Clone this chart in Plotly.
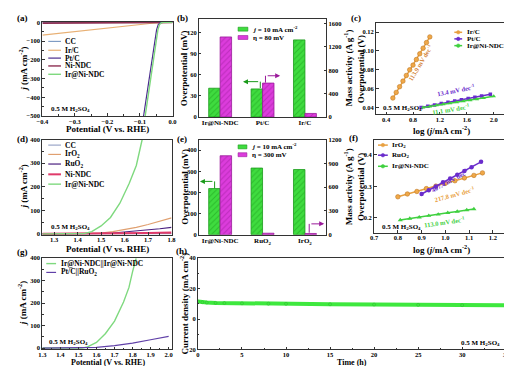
import plotly.graph_objects as go

W, H = 512, 366
FONT = "Liberation Serif"


def px(x):
    return x / W


def py(y):
    return 1 - y / H


# ---------------- data ----------------
# (a) HER polarisation curves
a_cc_x = [-0.40, -0.20, 0.00]
a_cc_y = [-1.0, -0.5, 0.0]
a_irc_x = [-0.40, -0.35, -0.30, -0.25, -0.20, -0.15, -0.10, -0.07, -0.05, -0.03, 0.00]
a_irc_y = [-68, -58, -48, -38, -29, -20, -11, -6, -3, -1, 0]
a_ptc_x = [-0.089, -0.080, -0.071, -0.063, -0.055, -0.049, -0.044, -0.038, -0.030, 0.000]
a_ptc_y = [-500, -400, -300, -200, -100, -40, -12, -3, 0, 0]
a_ni_x = [-0.40, -0.20, 0.00]
a_ni_y = [-4, -2, 0]
a_irni_x = [-0.084, -0.075, -0.066, -0.058, -0.050, -0.045, -0.040, -0.035, -0.030, 0.000]
a_irni_y = [-500, -400, -300, -200, -100, -40, -12, -3, 0, 0]

# (b) HER bars
b_cats = ["Ir@Ni-NDC", "Pt/C", "Ir/C"]
b_overpot = [41, 40, 110]
b_mass = [1370, 580, 60]

# (c) HER Tafel
c_irc_x = [0.50, 0.55, 0.60, 0.65, 0.70, 0.75, 0.80, 0.85, 0.90, 0.95, 1.00, 1.05]
c_irc_y = [0.050, 0.056, 0.062, 0.068, 0.074, 0.080, 0.085, 0.091, 0.097, 0.103, 0.109, 0.115]
c_ptc_x = [0.92, 1.02, 1.12, 1.22, 1.32, 1.42, 1.52, 1.62, 1.72, 1.82, 1.95]
c_ptc_y = [0.0400, 0.0413, 0.0427, 0.0441, 0.0454, 0.0468, 0.0481, 0.0495, 0.0509, 0.0522, 0.0540]
c_irni_x = [0.95, 1.05, 1.15, 1.25, 1.35, 1.45, 1.55, 1.65, 1.75, 1.85, 2.00]
c_irni_y = [0.0400, 0.0411, 0.0422, 0.0433, 0.0444, 0.0455, 0.0466, 0.0477, 0.0488, 0.0499, 0.0520]

# (d) OER polarisation curves
d_x = [1.25, 1.45, 1.50, 1.55, 1.60, 1.65, 1.70, 1.75, 1.80]
d_cc_y = [0, 0.2, 0.3, 0.4, 0.5, 0.7, 0.9, 1.1, 1.4]
d_iro2_y = [0, 1, 4, 10, 18, 28, 40, 53, 68]
d_ruo2_y = [0, 0.5, 2, 4, 8, 12, 17, 22, 28]
d_ni_y = [0, 0.5, 1, 1.5, 2.5, 3, 4, 5, 6]
d_irni_x = [1.25, 1.40, 1.43, 1.46, 1.50, 1.54, 1.58, 1.62, 1.65, 1.675]
d_irni_y = [0, 0, 2, 10, 34, 70, 130, 215, 290, 400]

# (e) OER bars
e_cats = ["Ir@Ni-NDC", "RuO<sub>2</sub>", "IrO<sub>2</sub>"]
e_overpot = [218, 315, 308]
e_mass = [995, 18, 15]

# (f) OER Tafel
f_iro2_x = [0.80, 0.84, 0.88, 0.92, 0.96, 1.00, 1.04, 1.08, 1.12, 1.156]
f_iro2_y = [0.267, 0.276, 0.284, 0.293, 0.301, 0.310, 0.318, 0.327, 0.335, 0.343]
f_ruo2_x = [0.90, 0.93, 0.96, 0.99, 1.02, 1.05, 1.08, 1.11, 1.15]
f_ruo2_y = [0.276, 0.288, 0.300, 0.313, 0.325, 0.337, 0.349, 0.361, 0.378]
f_irni_x = [0.81, 0.85, 0.89, 0.93, 0.97, 1.01, 1.05, 1.09, 1.12]
f_irni_y = [0.193, 0.198, 0.202, 0.207, 0.211, 0.216, 0.220, 0.225, 0.228]

# (g) overall water splitting
g_irni_x = [1.30, 1.52, 1.55, 1.60, 1.65, 1.70, 1.75, 1.78, 1.80, 1.82]
g_irni_y = [0, 0, 5, 25, 65, 120, 205, 270, 340, 400]
g_pt_x = [1.30, 1.55, 1.60, 1.70, 1.80, 1.90, 2.00]
g_pt_y = [0, 0, 3, 11, 22, 37, 52]

# (h) stability
h_t = [0, 0.5, 1, 2, 3, 5, 8, 10, 15, 20, 25, 30, 35]
h_j = [11.5, 11.0, 10.8, 10.6, 10.5, 10.3, 10.1, 10.0, 9.7, 9.5, 9.3, 9.1, 9.0]

# ---------------- figure ----------------
fig = go.Figure()


def line(x, y, color, xa, ya, width=1.2, mode="lines", marker=None):
    fig.add_trace(go.Scatter(x=x, y=y, mode=mode, xaxis=xa, yaxis=ya,
                             line=dict(color=color, width=width),
                             marker=marker, showlegend=False, hoverinfo="skip"))


C_CC = "#7f9cc4"
C_IRC = "#e8b074"
C_PTC = "#4b2d8f"
C_NI = "#8e2f52"
C_IRNI = "#7fd97f"

# (a)
line(a_cc_x, a_cc_y, C_CC, "x", "y")
line(a_irc_x, a_irc_y, C_IRC, "x", "y")
line(a_ni_x, a_ni_y, C_NI, "x", "y", width=1.6)
line(a_ptc_x, a_ptc_y, C_PTC, "x", "y")
line(a_irni_x, a_irni_y, C_IRNI, "x", "y", width=1.4)

# (b)
GREEN = "#3fdc3f"
GREEN_D = "#1a9a1a"
MAG = "#dc3cdc"
MAG_D = "#9a1a9a"


def bars(cats, vals, color, dark, xa, ya, offset):
    fig.add_trace(go.Bar(x=cats, y=vals, xaxis=xa, yaxis=ya, width=0.27, offset=offset,
                         marker=dict(color=color, line=dict(color=dark, width=0.8),
                                     pattern=dict(shape="/", fgcolor=dark, size=4, solidity=0.25)),
                         showlegend=False, hoverinfo="skip"))


bars(b_cats, b_overpot, GREEN, GREEN_D, "x2", "y2", -0.27)
bars(b_cats, b_mass, MAG, MAG_D, "x2", "y3", 0.0)

# (c)
line(c_irc_x, c_irc_y, "#e8a040", "x3", "y4", width=1.5, mode="lines+markers",
     marker=dict(size=4.5, color="#f0a848", line=dict(color="#c07a28", width=0.6)))
line(c_ptc_x, c_ptc_y, "#6a2ccc", "x3", "y4", width=1.5, mode="lines+markers",
     marker=dict(size=3.5, symbol="square", color="#6a2ccc"))
line(c_irni_x, c_irni_y, "#3fd03f", "x3", "y4", width=1.5, mode="lines+markers",
     marker=dict(size=4, symbol="triangle-up", color="#3fd03f"))

# (d)
line(d_x, d_cc_y, "#9aa6c8", "x4", "y5")
line(d_x, d_iro2_y, "#e0a070", "x4", "y5")
line(d_x, d_ruo2_y, "#4b2080", "x4", "y5")
line(d_x, d_ni_y, "#e03a6a", "x4", "y5", width=2.2)
line(d_irni_x, d_irni_y, C_IRNI, "x4", "y5", width=1.4)

# (e)
bars(e_cats, e_overpot, GREEN, GREEN_D, "x5", "y6", -0.27)
bars(e_cats, e_mass, MAG, MAG_D, "x5", "y7", 0.0)

# (f)
line(f_iro2_x, f_iro2_y, "#e8a040", "x6", "y8", width=1.5, mode="lines+markers",
     marker=dict(size=4.5, color="#f0a848", line=dict(color="#c07a28", width=0.6)))
line(f_ruo2_x, f_ruo2_y, "#6a2ccc", "x6", "y8", width=1.5, mode="lines+markers",
     marker=dict(size=4.5, color="#6a2ccc"))
line(f_irni_x, f_irni_y, "#3fd03f", "x6", "y8", width=1.5, mode="lines+markers",
     marker=dict(size=4.5, symbol="triangle-up", color="#3fd03f"))

# (g)
line(g_irni_x, g_irni_y, C_IRNI, "x7", "y9", width=1.4)
line(g_pt_x, g_pt_y, "#6040a8", "x7", "y9", width=1.2)

# (h)
line(h_t, h_j, "#3ee83e", "x8", "y10", width=4, mode="lines+markers",
     marker=dict(size=3, color="#3ee83e", line=dict(color="#2cb82c", width=0.5)))

# ---------------- axes ----------------
TF = dict(family=FONT, size=6.5, color="black", weight="bold")
AX = dict(showline=True, linecolor="#333333", linewidth=1, mirror=True,
          ticks="inside", ticklen=2.5, tickwidth=1, tickcolor="#333333",
          showgrid=False, zeroline=False, tickfont=TF, ticklabeloverflow="allow")

lay = {}


def xax(name, x0, x1, anchor, **kw):
    d = dict(AX)
    d.update(domain=[px(x0), px(x1)], anchor=anchor, ticklabelstandoff=-1)
    d.update(kw)
    lay[name] = d


def yax(name, top, bottom, anchor, **kw):
    d = dict(AX)
    d.update(domain=[py(bottom), py(top)], anchor=anchor, ticklabelstandoff=0)
    d.update(kw)
    lay[name] = d


MIN = dict(ticks="inside", ticklen=1.5, tickcolor="#333333")
CATF = dict(family=FONT, size=7, color="black", weight="bold")

xax("xaxis", 29, 162, "y", range=[-0.4, 0.0], dtick=0.1, tickformat=".1f", minor=dict(MIN, dtick=0.05))
yax("yaxis", 10, 106, "x", range=[-500, 3], dtick=100, minor=dict(MIN, dtick=50))

xax("xaxis2", 189, 319, "y2", type="category", range=[-0.5, 2.5], ticks="", tickfont=CATF)
yax("yaxis2", 7, 107, "x2", range=[0, 140], dtick=30, mirror=False)
yax("yaxis3", 7, 107, "x2", range=[0, 1680], dtick=400, overlaying="y2", side="right", mirror=False)

xax("xaxis3", 370, 504, "y4", range=[0.25, 2.2], dtick=0.4, tick0=0.4, tickformat=".1f")
yax("yaxis4", 11, 104, "x3", range=[0.033, 0.13], dtick=0.02, tick0=0.04, tickformat=".2f")

xax("xaxis4", 29, 161, "y5", range=[1.25, 1.8], dtick=0.1, tick0=1.3, tickformat=".1f", minor=dict(MIN, dtick=0.05))
yax("yaxis5", 130, 227, "x4", range=[-3, 400], dtick=100, minor=dict(MIN, dtick=50))

xax("xaxis5", 189, 319, "y6", type="category", range=[-0.5, 2.5], ticks="", tickfont=CATF)
yax("yaxis6", 130, 227, "x5", range=[0, 450], dtick=100, mirror=False)
yax("yaxis7", 130, 227, "x5", range=[0, 1200], dtick=300, overlaying="y6", side="right", mirror=False)

xax("xaxis6", 368, 504, "y8", range=[0.7, 1.26], dtick=0.1, tick0=0.7, tickformat=".1f")
yax("yaxis8", 130, 225, "x6", range=[0.153, 0.449], dtick=0.1, tick0=0.2, tickformat=".1f")

xax("xaxis7", 29, 161, "y9", range=[1.3, 2.016], dtick=0.1, tick0=1.3, tickformat=".1f", minor=dict(MIN, dtick=0.05))
yax("yaxis9", 251, 344, "x7", range=[-6, 400], dtick=100, minor=dict(MIN, dtick=50))

xax("xaxis8", 188, 503, "y10", range=[0, 35], dtick=5, minor=dict(MIN, dtick=2.5))
yax("yaxis10", 251, 344, "x8", range=[-20, 40], dtick=20, minor=dict(MIN, dtick=10))

# ---------------- annotations ----------------
ann = []
shapes = []


def text(x, y, s, size=7.5, color="black", xanchor="center", yanchor="middle", angle=0):
    ann.append(dict(x=px(x), y=py(y), xref="paper", yref="paper", text=s, showarrow=False,
                    xanchor=xanchor, yanchor=yanchor, textangle=angle,
                    font=dict(family=FONT, size=size, color=color, weight="bold")))


J = "<i>j</i> (mA cm<sup>-2</sup>)"
H2SO4 = "0.5 M H<sub>2</sub>SO<sub>4</sub>"
POT = "Potential (V vs. RHE)"
TS = 9

# panel labels
for lab, x, y in [("(a)", 9, 6), ("(b)", 172, 6), ("(c)", 349, 6), ("(d)", 9, 129),
                  ("(e)", 172, 129), ("(f)", 347, 128), ("(g)", 9, 245), ("(h)", 171, 244)]:
    text(x, y, lab, size=9)

# axis titles
text(9, 58, J, size=TS, angle=-90)
text(96, 119.5, POT, size=TS)
text(174, 57, "Overpotential (mV)", size=TS, angle=-90)
text(341, 57, "Mass activity (A g<sup>-1</sup>)", size=TS, angle=-90)
text(354, 58, "Overpotential (V)", size=TS, angle=-90)
text(437, 120, "log (<i>j</i>/mA cm<sup>-2</sup>)", size=TS)

text(9, 178, J, size=TS, angle=-90)
text(96, 241.5, POT, size=TS)
text(174, 178, "Overpotential (mV)", size=TS, angle=-90)
text(341, 178, "Mass activity (A g<sup>-1</sup>)", size=TS, angle=-90)
text(354, 178, "Overpotential (V)", size=TS, angle=-90)
text(437, 241.5, "log (<i>j</i>/mA cm<sup>-2</sup>)", size=TS)

text(9, 297, J, size=TS, angle=-90)
text(96, 357, POT, size=8)
text(174, 297, "Current density (mA cm<sup>-2</sup>)", size=TS, angle=-90)
text(345, 357, "Time (h)", size=8)

# electrolyte labels
text(36, 99, H2SO4, size=7, xanchor="left")
text(375, 98, H2SO4, size=7, xanchor="left")
text(36, 219, H2SO4, size=7, xanchor="left")
text(374, 219, H2SO4, size=7, xanchor="left")
text(34, 336, H2SO4, size=7, xanchor="left")
text(499, 337, H2SO4, size=7, xanchor="right")

# slopes
text(415, 52, "113.9 mV dec<sup>-1</sup>", size=6.5, color="#d4843a", angle=-59)
text(452, 80, "13.4 mV dec<sup>-1</sup>", size=6.5, color="#6a2ccc", angle=-11)
text(447, 99, "11.1 mV dec<sup>-1</sup>", size=6.5, color="#3fd03f", angle=-9)
text(446, 171, "407.4 mV dec<sup>-1</sup>", size=6.5, color="#6a2ccc", angle=-28)
text(451, 186, "217.8 mV dec<sup>-1</sup>", size=6.5, color="#e8a040", angle=-15)
text(440, 214, "113.0 mV dec<sup>-1</sup>", size=6.5, color="#3fd03f", angle=-8)


def leg_line(x0, x1, y, color, label, width=1.2, size=7.5, marker=False):
    shapes.append(dict(type="line", xref="paper", yref="paper", x0=px(x0), x1=px(x1),
                       y0=py(y), y1=py(y), line=dict(color=color, width=width)))
    if marker:
        xm = (x0 + x1) / 2
        shapes.append(dict(type="circle", xref="paper", yref="paper", x0=px(xm - 1.8), x1=px(xm + 1.8),
                           y0=py(y + 1.8), y1=py(y - 1.8), fillcolor=color, line=dict(color=color, width=0.5)))
    text(x1 + 2.5, y, label, size=size, xanchor="left")


# (a) legend
for y, c, lab, w in [(30, C_CC, "CC", 1.2), (39, C_IRC, "Ir/C", 1.2), (47, C_PTC, "Pt/C", 1.2),
                     (55, C_NI, "Ni-NDC", 1.4), (63.5, C_IRNI, "Ir@Ni-NDC", 1.4)]:
    leg_line(35, 48, y, c, lab, width=w)

# (d) legend
for y, c, lab, w in [(135.7, "#9aa6c8", "CC", 1.2), (145.2, "#e0a070", "IrO<sub>2</sub>", 1.2),
                     (155, "#4b2080", "RuO<sub>2</sub>", 1.2), (165.5, "#e03a6a", "Ni-NDC", 2),
                     (175.5, C_IRNI, "Ir@Ni-NDC", 1.4)]:
    leg_line(35, 48, y, c, lab, width=w)

# (g) legend
leg_line(33, 43, 256.5, C_IRNI, "Ir@Ni-NDC||Ir@Ni-NDC", width=1.4)
leg_line(33, 43, 265.5, "#6040a8", "Pt/C||RuO<sub>2</sub>")

# (c) legend
leg_line(450, 458, 20.7, "#e8a040", "Ir/C", width=1.5, size=7, marker=True)
leg_line(450, 458, 27.4, "#6a2ccc", "Pt/C", width=1.5, size=7, marker=True)
leg_line(450, 458, 34.3, "#3fd03f", "Ir@Ni-NDC", width=1.5, size=7, marker=True)

# (f) legend
leg_line(372, 382, 135.7, "#e8a040", "IrO<sub>2</sub>", width=1.5, size=7, marker=True)
leg_line(372, 382, 146, "#6a2ccc", "RuO<sub>2</sub>", width=1.5, size=7, marker=True)
leg_line(372, 382, 157.3, "#3fd03f", "Ir@Ni-NDC", width=1.5, size=7, marker=True)


def leg_box(x0, x1, y0, y1, color, dark, label):
    shapes.append(dict(type="rect", xref="paper", yref="paper", x0=px(x0), x1=px(x1),
                       y0=py(y1), y1=py(y0), fillcolor=color, line=dict(color=dark, width=0.6)))
    text(x1 + 3, (y0 + y1) / 2, label, size=7, xanchor="left")


leg_box(229, 239, 15.5, 19.5, GREEN, GREEN_D, "<i>j</i> = 10 mA cm<sup>-2</sup>")
leg_box(229, 239, 24, 28, MAG, MAG_D, "\u03b7 = 80 mV")
leg_box(229, 238, 135.5, 139.5, GREEN, GREEN_D, "<i>j</i> = 10 mA cm<sup>-2</sup>")
leg_box(229, 238, 143.5, 147.5, MAG, MAG_D, "\u03b7 = 300 mV")


# axis-indicator arrows
def bent_arrow(xv, ybar, yh, xend, color):
    shapes.append(dict(type="line", xref="paper", yref="paper", x0=px(xv), x1=px(xv),
                       y0=py(ybar), y1=py(yh), line=dict(color=color, width=1)))
    ann.append(dict(x=px(xend), y=py(yh), ax=xv - xend, ay=0, xref="paper", yref="paper",
                    axref="pixel", ayref="pixel", text=" ", showarrow=True, arrowhead=2,
                    arrowsize=1, arrowwidth=1, arrowcolor=color))


bent_arrow(251.7, 77.5, 71, 234, GREEN_D)
bent_arrow(257, 72, 65, 272, MAG_D)
bent_arrow(205, 180, 172.7, 190, GREEN_D)
bent_arrow(301.7, 225, 216, 317, MAG_D)

fig.update_layout(
    width=W, height=H, margin=dict(l=0, r=0, t=0, b=0),
    paper_bgcolor="white", plot_bgcolor="white",
    font=dict(family=FONT, size=7.5, color="black"),
    barmode="overlay", showlegend=False,
    annotations=ann, shapes=shapes, **lay)

fig.write_html("out.html")
